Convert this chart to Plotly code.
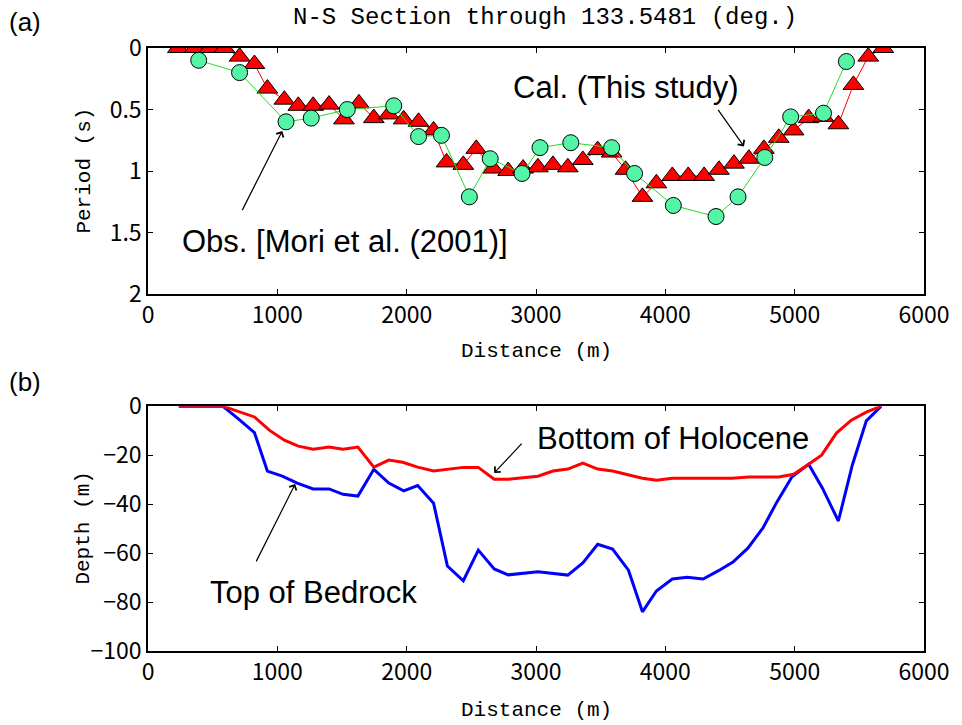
import plotly.graph_objects as go

# ---- data (a): period along the section ----
cal_x = [231, 362, 477, 592, 708, 823, 923, 1054, 1162, 1277, 1400, 1515, 1631, 1746, 1862, 1977,
         2092, 2208, 2308, 2438, 2538, 2669, 2785, 2900, 3015, 3131, 3246, 3362, 3477, 3585, 3692,
         3823, 3931, 4054, 4177, 4300, 4415, 4531, 4646, 4762, 4877, 4992, 5108, 5223, 5338, 5454,
         5569, 5685]
cal_y = [0.0, 0.0, 0.0, 0.0, 0.07, 0.13, 0.33, 0.42, 0.47, 0.47, 0.46, 0.58, 0.45, 0.57, 0.54, 0.58,
         0.60, 0.67, 0.93, 0.95, 0.82, 0.98, 1.00, 0.98, 0.97, 0.95, 0.97, 0.91, 0.83, 0.85, 0.99,
         1.21, 1.10, 1.04, 1.04, 1.04, 0.99, 0.94, 0.90, 0.82, 0.73, 0.67, 0.57, 0.56, 0.62, 0.30,
         0.07, 0.0]

obs_x = [392, 708, 1067, 1262, 1541, 1900, 2092, 2269, 2485, 2646, 2892, 3031, 3269, 3585, 3762,
         4062, 4392, 4562, 4769, 4969, 5223, 5400]
obs_y = [0.10, 0.20, 0.60, 0.57, 0.50, 0.47, 0.72, 0.71, 1.21, 0.90, 1.02, 0.81, 0.77, 0.81, 1.02,
         1.28, 1.37, 1.21, 0.89, 0.56, 0.53, 0.11]

# ---- data (b): depth of boundaries ----
hol_x = [238, 577, 823, 938, 1054, 1162, 1277, 1400, 1508, 1623, 1746, 1862, 1969, 2085, 2208, 2323,
         2438, 2554, 2677, 2785, 2900, 3015, 3131, 3246, 3362, 3477, 3592, 3708, 3823, 3931, 4054,
         4515, 4646, 4877, 4992, 5108, 5208, 5323, 5438, 5554, 5669]
hol_y = [0, 0, -4.4, -9.8, -13.9, -16.3, -17.6, -16.7, -17.6, -16.7, -24.9, -22.0, -22.9, -24.9,
         -26.5, -25.7, -25.0, -25.0, -29.8, -29.8, -29.3, -28.6, -26.5, -25.7, -23.3, -25.7, -26.5,
         -28.0, -29.4, -30.2, -29.4, -29.4, -28.9, -28.9, -27.8, -23.7, -20.0, -11.0, -5.7, -2.4, 0]

bed_x = [238, 577, 692, 823, 923, 1038, 1154, 1277, 1400, 1508, 1623, 1746, 1862, 1977, 2085, 2208,
         2315, 2438, 2554, 2677, 2785, 2900, 3015, 3246, 3362, 3477, 3592, 3715, 3823, 3931, 4054,
         4169, 4292, 4408, 4523, 4638, 4754, 4862, 4977, 5108, 5215, 5338, 5446, 5554, 5669]
bed_y = [0, 0, -4.9, -10.8, -26.5, -28.6, -31.4, -33.8, -33.8, -36.0, -36.7, -25.8, -31.4, -34.6,
         -32.4, -39.6, -65.3, -71.3, -58.8, -66.5, -68.9, -68.3, -67.6, -69.0, -64.0, -56.4, -58.4,
         -67.0, -84.0, -75.5, -70.6, -69.9, -70.6, -67.3, -63.7, -58.0, -49.8, -39.2, -29.0, -23.7,
         -33.5, -46.9, -24.0, -6.0, 0]

x_ticks = [0, 1000, 2000, 3000, 4000, 5000, 6000]
period_ticks = [0, 0.5, 1, 1.5, 2]
depth_ticks = [0, -20, -40, -60, -80, -100]

GOTHIC = "Noto Sans CJK JP, Liberation Sans"
MONO = "Liberation Mono"
SANS = "Liberation Sans, Arial"

fig = go.Figure()
fig.add_trace(go.Scatter(x=cal_x, y=cal_y, mode="lines+markers", name="Cal.",
                         line=dict(color="red", width=1),
                         marker=dict(symbol="triangle-up", size=18, color="red",
                                     line=dict(color="black", width=1)),
                         xaxis="x", yaxis="y"))
fig.add_trace(go.Scatter(x=obs_x, y=obs_y, mode="lines+markers", name="Obs.",
                         line=dict(color="#22dd22", width=1),
                         marker=dict(symbol="circle", size=16, color="#55f5a8",
                                     line=dict(color="black", width=1)),
                         xaxis="x", yaxis="y"))
fig.add_trace(go.Scatter(x=bed_x, y=bed_y, mode="lines", name="Top of Bedrock",
                         line=dict(color="blue", width=3), xaxis="x2", yaxis="y2"))
fig.add_trace(go.Scatter(x=hol_x, y=hol_y, mode="lines", name="Bottom of Holocene",
                         line=dict(color="red", width=3), xaxis="x2", yaxis="y2"))

axis_common = dict(showline=True, linecolor="black", linewidth=1.5, mirror="ticks",
                   ticks="inside", ticklen=5, tickcolor="black", tickwidth=1,
                   showgrid=False, zeroline=False,
                   tickfont=dict(family=GOTHIC, size=23, color="black"))

fig.update_layout(
    width=962, height=725,
    margin=dict(l=148, r=34, t=48, b=74),
    paper_bgcolor="white", plot_bgcolor="white",
    showlegend=False,
    xaxis=dict(domain=[0, 1], range=[0, 6000], tickvals=x_ticks, anchor="y", **axis_common),
    yaxis=dict(domain=[0.592, 1], range=[2, 0], tickvals=period_ticks, anchor="x", **axis_common),
    xaxis2=dict(domain=[0, 1], range=[0, 6000], tickvals=x_ticks, anchor="y2", **axis_common),
    yaxis2=dict(domain=[0, 0.406], range=[-100, 0], tickvals=depth_ticks, anchor="x2", **axis_common),
)

ann = []
def ptxt(text, x, y, family, size, angle=0):
    return dict(text=text, xref="paper", yref="paper", x=x, y=y, showarrow=False,
                xanchor="center", yanchor="middle", textangle=angle,
                font=dict(family=family, size=size, color="black"))

ann.append(ptxt("(a)", -0.159, 1.043, SANS, 26))
ann.append(ptxt("(b)", -0.159, 0.446, SANS, 26))
ann.append(ptxt("N-S Section through 133.5481 (deg.)", 0.512, 1.050, MONO, 24))
ann.append(ptxt("Period (s)", -0.083, 0.796, MONO, 21, -90))
ann.append(ptxt("Distance (m)", 0.5, 0.496, MONO, 21))
ann.append(ptxt("Depth (m)", -0.083, 0.204, MONO, 21, -90))
ann.append(ptxt("Distance (m)", 0.5, -0.099, MONO, 21))

def dtxt(text, x, y, xr, yr):
    return dict(text=text, xref=xr, yref=yr, x=x, y=y, showarrow=False,
                xanchor="center", yanchor="middle",
                font=dict(family=SANS, size=31, color="black"))

ann.append(dtxt("Cal. (This study)", 3692, 0.325, "x", "y"))
ann.append(dtxt("Obs. [Mori et al. (2001)]", 1523, 1.57, "x", "y"))
ann.append(dtxt("Bottom of Holocene", 4062, -13.0, "x2", "y2"))
ann.append(dtxt("Top of Bedrock", 1277, -76.0, "x2", "y2"))

def arrow(hx, hy, tx, ty, xr, yr):
    return dict(text="", x=hx, y=hy, ax=tx, ay=ty, xref=xr, yref=yr, axref=xr, ayref=yr,
                showarrow=True, arrowhead=4, arrowsize=1.3, arrowwidth=1.2,
                arrowcolor="black", standoff=0, startstandoff=0)

ann.append(arrow(4608, 0.80, 4400, 0.49, "x", "y"))
ann.append(arrow(1038, 0.675, 723, 1.33, "x", "y"))
ann.append(arrow(2677, -27.3, 2900, -14.7, "x2", "y2"))
ann.append(arrow(1138, -31.8, 831, -64.0, "x2", "y2"))

fig.update_layout(annotations=ann)

fig.write_html("out.html")
